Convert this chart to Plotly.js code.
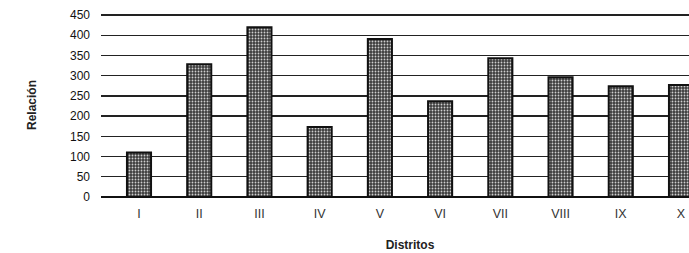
<!DOCTYPE html>
<html>
<head>
<meta charset="utf-8">
<script src="https://cdn.plot.ly/plotly-3.0.1.min.js"></script>
<style>html,body{margin:0;padding:0;background:#fff;overflow:hidden}</style>
</head>
<body>
<div id="chart" style="width:719px;height:253px"></div>
<script>
const distritos = ["I","II","III","IV","V","VI","VII","VIII","IX","X"];
const relacion = [110, 328, 420, 173, 391, 237, 343, 296, 274, 277];
const yTicks = [0,50,100,150,200,250,300,350,400,450];

const trace = {
  type: "bar",
  x: distritos,
  y: relacion,
  width: 0.4,
  marker: {
    color: "#444",
    line: {color: "#111", width: 2},
    pattern: {shape: ".", fgcolor: "#cfcfcf", bgcolor: "#3c3c3c", size: 3, solidity: 0.3}
  },
  hoverinfo: "skip"
};

const layout = {
  width: 719, height: 253,
  margin: {l: 101, r: 0, t: 13, b: 56},
  paper_bgcolor: "#fff", plot_bgcolor: "#fff",
  showlegend: false,
  font: {family: "Arial, Liberation Sans, sans-serif", color: "#222", size: 12},
  xaxis: {
    type: "category",
    range: [-0.631, 9.631],
    showgrid: false, showline: false, zeroline: false,
    ticks: "", ticklabelstandoff: 7,
    tickfont: {size: 12.5, color: "#333"},
    title: {text: "<b>Distritos</b>", font: {size: 12, color: "#222"}, standoff: 21}
  },
  yaxis: {
    range: [0, 455],
    tickvals: yTicks,
    showgrid: true, gridcolor: "#222", gridwidth: 1.4,
    zeroline: true, zerolinecolor: "#111", zerolinewidth: 1.5,
    showline: false, ticks: "", ticklabelstandoff: 10,
    tickfont: {size: 12, color: "#111"},
    title: {text: "<b>Relación</b>", font: {size: 12, color: "#222"}, standoff: 30}
  }
};

Plotly.newPlot("chart", [trace], layout, {staticPlot: true, displayModeBar: false});
</script>
</body>
</html>
